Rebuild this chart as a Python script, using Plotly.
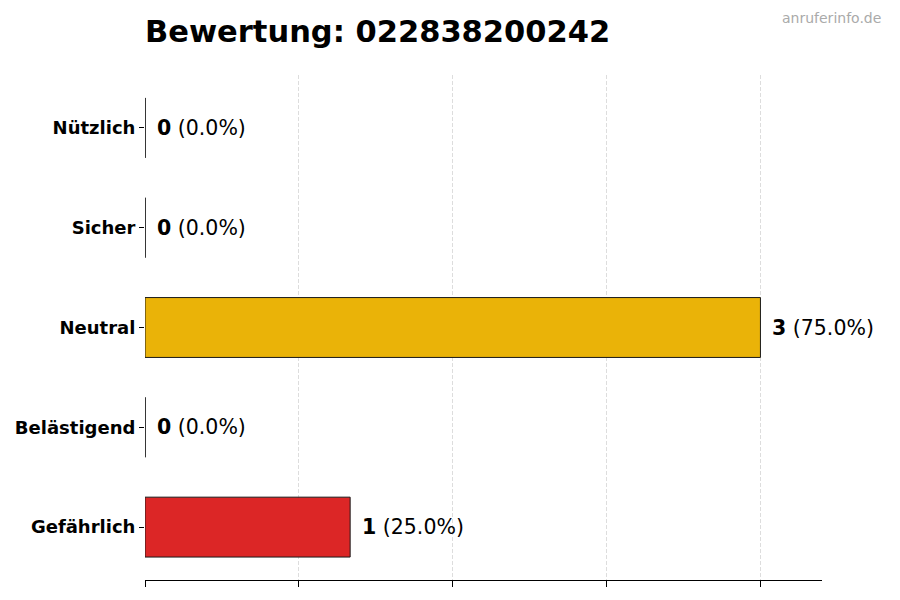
import plotly.graph_objects as go

# rating data (bottom to top)
categories = ["Gefährlich", "Belästigend", "Neutral", "Sicher", "Nützlich"]
counts = [1, 0, 3, 0, 0]
colors = ["#dc2626", "#f97316", "#eab308", "#3b82f6", "#22c55e"]
phone = "022838200242"

total = sum(counts)
percents = [c / total * 100 for c in counts]
xmax = max(counts) * 1.1
bar_width = 0.6

# page body has an 8px margin, so the figure is a bit smaller
W, H = 892, 592

fig = go.Figure()
fig.add_trace(go.Bar(
    x=counts,
    y=list(range(len(categories))),
    orientation="h",
    width=bar_width,
    marker=dict(color=colors, line=dict(color="#1a1a1a", width=1)),
    hoverinfo="skip",
))

# value labels + outlines for empty bars
for i, (c, p) in enumerate(zip(counts, percents)):
    fig.add_annotation(
        x=c, y=i, xref="x", yref="y",
        text=f"<b>{c}</b> ({p:.1f}%)",
        showarrow=False, xanchor="left", xshift=10,
        font=dict(size=20.5, color="black"),
    )
    if c == 0:
        fig.add_shape(
            type="line", xref="x", yref="y",
            x0=c, x1=c, y0=i - bar_width / 2, y1=i + bar_width / 2,
            line=dict(color="#1a1a1a", width=1),
        )

fig.add_annotation(
    x=1, y=1, xref="paper", yref="paper", xanchor="right", yanchor="top",
    xshift=61, yshift=67,
    text="anruferinfo.de", showarrow=False,
    font=dict(size=14, color="#aaaaaa"),
)

fig.update_layout(
    width=W, height=H,
    margin=dict(l=137, r=78, t=67, b=20, autoexpand=False),
    plot_bgcolor="white", paper_bgcolor="white",
    font=dict(family="DejaVu Sans", color="black"),
    title=dict(
        text=f"<b>Bewertung: {phone}</b>",
        x=137 / W, xanchor="left", y=1 - 23 / H, yanchor="middle",
        font=dict(size=30.5, color="black"),
    ),
    showlegend=False,
    bargap=0.4,
)
fig.update_xaxes(
    range=[0, xmax], dtick=0.75, tick0=0,
    showticklabels=False, ticks="outside", ticklen=6, tickcolor="black",
    showgrid=True, gridcolor="#dddddd", griddash="4px,2px", gridwidth=0.8,
    showline=True, linecolor="black", linewidth=1,
    zeroline=False, layer="above traces", fixedrange=True, automargin=False,
)
fig.update_yaxes(
    range=[-0.53, len(categories) - 0.47],
    tickvals=list(range(len(categories))),
    ticktext=[f"<b>{c}</b>" for c in categories],
    tickfont=dict(size=18, color="black"),
    ticks="outside", ticklen=5, tickcolor="black", ticklabelstandoff=0,
    showgrid=False, zeroline=False, showline=False, fixedrange=True,
    automargin=False,
)

fig.write_html("out.html")
